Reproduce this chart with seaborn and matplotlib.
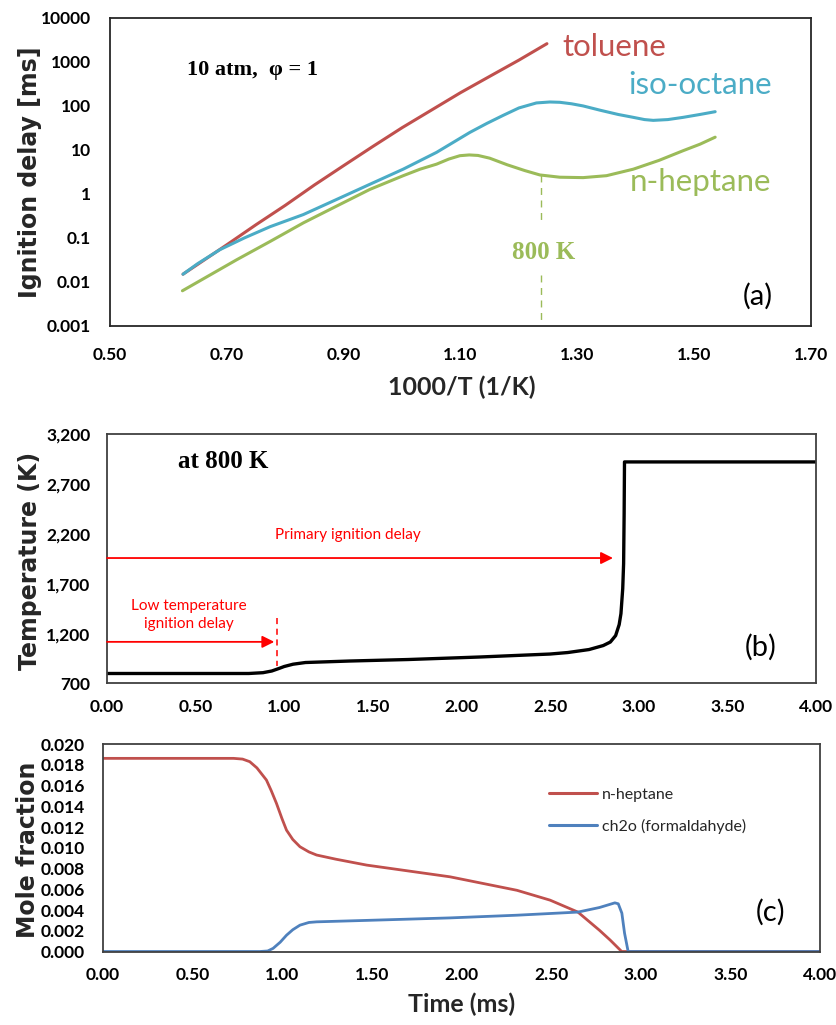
import numpy as np
import pandas as pd
import matplotlib
matplotlib.use("Agg")
import matplotlib.pyplot as plt
import seaborn as sns
from matplotlib.ticker import FixedLocator, FixedFormatter, NullLocator

# ---------------- data ----------------
# (a) ignition delay vs 1000/T
tol_x = [0.625, 0.65, 0.70, 0.75, 0.80, 0.85, 0.90, 0.95, 1.00, 1.05, 1.10, 1.15, 1.20, 1.248]
tol_y = [0.015, 0.025, 0.07, 0.2, 0.55, 1.6, 4.4, 12, 32, 80, 200, 470, 1100, 2600]

iso_x = [0.625, 0.65, 0.688, 0.73, 0.774, 0.831, 0.888, 0.945, 1.002, 1.059, 1.116, 1.145,
         1.173, 1.20, 1.23, 1.253, 1.27, 1.29, 1.31, 1.339, 1.37, 1.396, 1.415, 1.43,
         1.455, 1.481, 1.51, 1.536]
iso_y = [0.015, 0.026, 0.054, 0.1, 0.18, 0.34, 0.75, 1.66, 3.66, 8.8, 25, 40,
         61, 90, 117, 123, 121, 112, 100, 80, 64, 55, 49, 47,
         49, 55, 64, 74]

hep_x = [0.624, 0.717, 0.774, 0.831, 0.888, 0.945, 1.002, 1.031, 1.059, 1.08, 1.099, 1.115,
         1.13, 1.15, 1.18, 1.21, 1.236, 1.27, 1.31, 1.35, 1.396, 1.44, 1.481, 1.51, 1.536]
hep_y = [0.0063, 0.032, 0.083, 0.22, 0.53, 1.27, 2.6, 3.66, 4.75, 6.2, 7.4, 7.7,
         7.5, 6.5, 4.6, 3.4, 2.7, 2.4, 2.35, 2.6, 3.66, 5.8, 9.6, 13.5, 19.5]

a_xticks = [0.50, 0.70, 0.90, 1.10, 1.30, 1.50, 1.70]
a_yticks = [0.001, 0.01, 0.1, 1, 10, 100, 1000, 10000]
a_ylabels = ["0.001", "0.01", "0.1", "1", "10", "100", "1000", "10000"]

# (b) temperature vs time
b_t = [0.0, 0.80, 0.88, 0.93, 0.97, 1.00, 1.05, 1.12, 1.37, 1.70, 2.10, 2.50, 2.60, 2.72,
       2.80, 2.84, 2.87, 2.89, 2.90, 2.91, 2.915, 2.918, 2.92, 4.0]
b_T = [800, 800, 808, 825, 850, 870, 893, 910, 925, 940, 965, 995, 1010, 1040,
       1080, 1115, 1180, 1290, 1400, 1650, 1900, 2400, 2920, 2920]
b_yticks = [700, 1200, 1700, 2200, 2700, 3200]
time_ticks = [0.0, 0.5, 1.0, 1.5, 2.0, 2.5, 3.0, 3.5, 4.0]

# (c) mole fractions vs time
c_hep_t = [0.0, 0.73, 0.78, 0.82, 0.86, 0.913, 0.94, 0.969, 1.0, 1.025, 1.06, 1.10, 1.15,
           1.193, 1.30, 1.472, 1.937, 2.31, 2.495, 2.65, 2.77, 2.83, 2.894, 4.0]
c_hep_y = [0.01862, 0.01862, 0.01855, 0.0183, 0.0177, 0.01653, 0.0155, 0.01428, 0.0128,
           0.0117, 0.0108, 0.0101, 0.0096, 0.0093, 0.0089, 0.00833, 0.0072, 0.0059,
           0.00495, 0.0038, 0.00205, 0.0011, 0.0, 0.0]
c_ch2o_t = [0.0, 0.876, 0.92, 0.95, 0.99, 1.025, 1.06, 1.10, 1.15, 1.193, 1.472, 1.937,
            2.31, 2.65, 2.77, 2.856, 2.875, 2.895, 2.91, 2.93, 4.0]
c_ch2o_y = [0.0, 0.0, 0.00005, 0.0003, 0.0009, 0.00157, 0.0021, 0.00254, 0.0028, 0.00286,
            0.0030, 0.00324, 0.0035, 0.0038, 0.00424, 0.00469, 0.0046, 0.0037, 0.00177,
            0.0, 0.0]
c_yticks = [0.000, 0.002, 0.004, 0.006, 0.008, 0.010, 0.012, 0.014, 0.016, 0.018, 0.020]

# ---------------- style ----------------
sns.set_theme(style="white")
plt.rcParams["font.family"] = ["Lato", "DejaVu Sans"]

RED = "#C0504D"
CYAN = "#4BACC6"
GREEN = "#9BBB59"
BLUE = "#4F81BD"
TICKFONT = dict(family="Lato", weight="bold", size=12.5)

fig = plt.figure(figsize=(8.37, 10.25), dpi=100)
axa = fig.add_axes([0.1314, 0.682, 0.8375, 0.3005])
axb = fig.add_axes([0.1278, 0.3332, 0.847, 0.2434])
axc = fig.add_axes([0.1227, 0.0717, 0.857, 0.2024])


def style_axes(ax, spine_color, xpad, ypad):
    for s in ax.spines.values():
        s.set_color(spine_color)
        s.set_linewidth(1.3)
        s.set_visible(True)
    ax.tick_params(axis="both", length=0, colors="black")
    ax.tick_params(axis="x", pad=xpad)
    ax.tick_params(axis="y", pad=ypad)
    for lab in ax.get_xticklabels() + ax.get_yticklabels():
        lab.set_fontproperties(matplotlib.font_manager.FontProperties(**TICKFONT))
    ax.grid(False)


YLAB = dict(family="DejaVu Sans", weight="bold", size=17)

# ---------------- panel (a) ----------------
dfa = pd.concat([
    pd.DataFrame({"x": tol_x, "y": tol_y, "fuel": "toluene"}),
    pd.DataFrame({"x": iso_x, "y": iso_y, "fuel": "iso-octane"}),
    pd.DataFrame({"x": hep_x, "y": hep_y, "fuel": "n-heptane"}),
])
sns.lineplot(data=dfa, x="x", y="y", hue="fuel",
             palette={"toluene": RED, "iso-octane": CYAN, "n-heptane": GREEN},
             estimator=None, sort=False, lw=2.2, legend=False, ax=axa)
axa.set_yscale("log")
axa.set_xlim(0.5, 1.7)
axa.set_ylim(0.001, 10000)
axa.yaxis.set_major_locator(FixedLocator(a_yticks))
axa.yaxis.set_major_formatter(FixedFormatter(a_ylabels))
axa.yaxis.set_minor_locator(NullLocator())
axa.set_xticks(a_xticks)
axa.set_xticklabels([f"{v:.2f}" for v in a_xticks])
style_axes(axa, "#262626", 15, 14)

axa.set_xlabel("1000/T (1/K)", family="Lato", weight="bold", size=18)
axa.xaxis.set_label_coords(0.502, -0.16)
axa.set_ylabel("Ignition delay [ms]", **YLAB)
axa.yaxis.set_label_coords(-0.097, 0.5)

axa.text(1.275, 1330, "toluene", color=RED, fontsize=22.5, ha="left", va="baseline")
axa.text(1.388, 190, "iso-octane", color=CYAN, fontsize=22.5, ha="left", va="baseline")
axa.text(1.390, 1.16, "n-heptane", color=GREEN, fontsize=22.5, ha="left", va="baseline")
axa.text(0.631, 515, "10 atm,  \u03c6 = 1", family="Liberation Serif", weight="bold",
         fontsize=16, ha="left", va="baseline", color="black")
axa.text(1.188, 0.033, "800 K", family="Liberation Serif", weight="bold",
         fontsize=18, ha="left", va="baseline", color=GREEN)
axa.text(1.583, 0.0046, "(a)", fontsize=21, ha="left", va="center", color="black")
axa.plot([1.237, 1.237], [2.7, 0.2], color=GREEN, lw=1.0, ls=(0, (5, 4)))
axa.plot([1.237, 1.237], [0.0147, 0.0011], color=GREEN, lw=1.0, ls=(0, (5, 4)))

# ---------------- panel (b) ----------------
dfb = pd.DataFrame({"t": b_t, "T": b_T})
sns.lineplot(data=dfb, x="t", y="T", color="black", lw=2.4, estimator=None, sort=False, ax=axb)
axb.set_xlim(0, 4)
axb.set_ylim(700, 3200)
axb.set_yticks(b_yticks)
axb.set_yticklabels([f"{v:,}" for v in b_yticks])
axb.set_xticks(time_ticks)
axb.set_xticklabels([f"{v:.2f}" for v in time_ticks])
style_axes(axb, "#404040", 11, 12)
axb.set_xlabel("")
axb.set_ylabel("Temperature (K)", **YLAB)
axb.yaxis.set_label_coords(-0.092, 0.49)

axb.annotate("", xy=(2.855, 1957), xytext=(0.0, 1957),
             arrowprops=dict(arrowstyle="-|>", color="red", lw=1.3, mutation_scale=18,
                             shrinkA=0, shrinkB=0))
axb.annotate("", xy=(0.944, 1117), xytext=(0.0, 1117),
             arrowprops=dict(arrowstyle="-|>", color="red", lw=1.3, mutation_scale=18,
                             shrinkA=0, shrinkB=0))
axb.plot([0.957, 0.957], [1357, 873], color="red", lw=1.1, ls=(0, (4, 3)))
axb.text(1.36, 2190, "Primary ignition delay", color="red", fontsize=11,
         ha="center", va="center")
axb.text(0.463, 1385, "Low temperature\nignition delay", color="red", fontsize=11,
         ha="center", va="center", linespacing=1.35)
axb.text(0.40, 2860, "at 800 K", family="Liberation Serif", weight="bold",
         fontsize=18, ha="left", va="baseline", color="black")
axb.text(3.60, 1060, "(b)", fontsize=21, ha="left", va="center", color="black")

# ---------------- panel (c) ----------------
dfc = pd.concat([
    pd.DataFrame({"t": c_hep_t, "y": c_hep_y, "species": "n-heptane"}),
    pd.DataFrame({"t": c_ch2o_t, "y": c_ch2o_y, "species": "ch2o (formaldahyde)"}),
])
sns.lineplot(data=dfc, x="t", y="y", hue="species",
             palette={"n-heptane": RED, "ch2o (formaldahyde)": BLUE},
             estimator=None, sort=False, lw=2.0, ax=axc)
axc.set_xlim(0, 4)
axc.set_ylim(0, 0.020)
axc.set_yticks(c_yticks)
axc.set_yticklabels([f"{v:.3f}" for v in c_yticks])
axc.set_xticks(time_ticks)
axc.set_xticklabels([f"{v:.2f}" for v in time_ticks])
style_axes(axc, "#404040", 11, 13)
axc.set_xlabel("Time (ms)", family="Lato", weight="bold", size=18)
axc.xaxis.set_label_coords(0.5, -0.2)
axc.set_ylabel("Mole fraction", **YLAB)
axc.yaxis.set_label_coords(-0.088, 0.49)
leg = axc.legend(loc="upper left", bbox_to_anchor=(0.622, 0.79), frameon=False,
                 fontsize=11.5, handlelength=3.0, handletextpad=0.3, labelspacing=1.05,
                 borderpad=0, borderaxespad=0)
for line in leg.get_lines():
    line.set_linewidth(2.2)
axc.text(3.64, 0.0038, "(c)", fontsize=21, ha="left", va="center", color="black")

fig.savefig("out.png", dpi=100)
